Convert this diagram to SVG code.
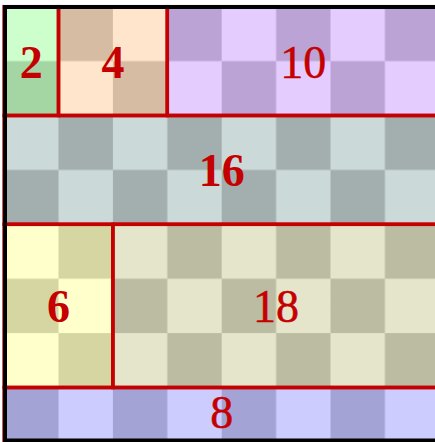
<svg xmlns="http://www.w3.org/2000/svg" width="435" height="442" viewBox="0 0 435 442">
<style>
.b{fill:none;stroke:#C40000;stroke-width:3.5}
.t{font-family:"Liberation Serif","DejaVu Serif",serif;font-size:46px;fill:#C40000;text-anchor:middle}
.bd{font-weight:bold}
.rg{stroke:#C40000;stroke-width:0.5}
</style>
<defs>
<pattern id="p2" patternUnits="userSpaceOnUse" x="4.1" y="6.7" width="108.8" height="108.8"><rect width="108.8" height="108.8" fill="#CCFFCC"/><rect x="54.4" width="54.4" height="54.4" fill="#A3D6A3"/><rect y="54.4" width="54.4" height="54.4" fill="#A3D6A3"/></pattern>
<pattern id="p4" patternUnits="userSpaceOnUse" x="4.1" y="6.7" width="108.8" height="108.8"><rect width="108.8" height="108.8" fill="#FFE5CC"/><rect x="54.4" width="54.4" height="54.4" fill="#D6BCA3"/><rect y="54.4" width="54.4" height="54.4" fill="#D6BCA3"/></pattern>
<pattern id="p10" patternUnits="userSpaceOnUse" x="4.1" y="6.7" width="108.8" height="108.8"><rect width="108.8" height="108.8" fill="#E5CCFF"/><rect x="54.4" width="54.4" height="54.4" fill="#BCA3D6"/><rect y="54.4" width="54.4" height="54.4" fill="#BCA3D6"/></pattern>
<pattern id="p16" patternUnits="userSpaceOnUse" x="4.1" y="6.7" width="108.8" height="108.8"><rect width="108.8" height="108.8" fill="#CCD9D9"/><rect x="54.4" width="54.4" height="54.4" fill="#A3AEAE"/><rect y="54.4" width="54.4" height="54.4" fill="#A3AEAE"/></pattern>
<pattern id="p6" patternUnits="userSpaceOnUse" x="4.1" y="6.7" width="108.8" height="108.8"><rect width="108.8" height="108.8" fill="#FFFFCC"/><rect x="54.4" width="54.4" height="54.4" fill="#D6D6A3"/><rect y="54.4" width="54.4" height="54.4" fill="#D6D6A3"/></pattern>
<pattern id="p18" patternUnits="userSpaceOnUse" x="4.1" y="6.7" width="108.8" height="108.8"><rect width="108.8" height="108.8" fill="#E5E5CC"/><rect x="54.4" width="54.4" height="54.4" fill="#BCBCA3"/><rect y="54.4" width="54.4" height="54.4" fill="#BCBCA3"/></pattern>
<pattern id="p8" patternUnits="userSpaceOnUse" x="4.1" y="6.7" width="108.8" height="108.8"><rect width="108.8" height="108.8" fill="#CCCCFF"/><rect x="54.4" width="54.4" height="54.4" fill="#A3A3D6"/><rect y="54.4" width="54.4" height="54.4" fill="#A3A3D6"/></pattern>
</defs>
<rect width="435" height="442" fill="#FFFFFF"/>
<g id="n2"><rect x="4.1" y="6.7" width="54.4" height="108.8" fill="url(#p2)"/></g>
<g id="n4"><rect x="58.5" y="6.7" width="108.8" height="108.8" fill="url(#p4)"/></g>
<g id="n10"><rect x="167.3" y="6.7" width="272" height="108.8" fill="url(#p10)"/></g>
<g id="n16"><rect x="4.1" y="115.5" width="435.2" height="108.8" fill="url(#p16)"/></g>
<g id="n6"><rect x="4.1" y="224.3" width="108.8" height="163.2" fill="url(#p6)"/></g>
<g id="n18"><rect x="112.9" y="224.3" width="326.4" height="163.2" fill="url(#p18)"/></g>
<g id="n8"><rect x="4.1" y="387.5" width="435.2" height="54.4" fill="url(#p8)"/></g>
<g id="borders">
<rect class="b" x="4.1" y="6.7" width="54.4" height="108.8"/>
<rect class="b" x="58.5" y="6.7" width="108.8" height="108.8"/>
<rect class="b" x="167.3" y="6.7" width="272" height="108.8"/>
<rect class="b" x="4.1" y="115.5" width="435.2" height="108.8"/>
<rect class="b" x="4.1" y="224.3" width="108.8" height="163.2"/>
<rect class="b" x="112.9" y="224.3" width="326.4" height="163.2"/>
<rect class="b" x="4.1" y="387.5" width="435.2" height="54.4"/>
</g>
<rect x="5" y="7" width="440" height="433.5" fill="none" stroke="#000000" stroke-width="4"/>
<g id="labels">
<text class="t bd" x="31.3" y="77.5">2</text>
<text class="t bd" x="112.9" y="77.5">4</text>
<text class="t rg" x="303.3" y="77.5">10</text>
<text class="t bd" x="221.7" y="186">16</text>
<text class="t bd" x="58.5" y="322">6</text>
<text class="t rg" x="276.1" y="322">18</text>
<text class="t rg" x="221.7" y="427.5">8</text>
</g>
</svg>
